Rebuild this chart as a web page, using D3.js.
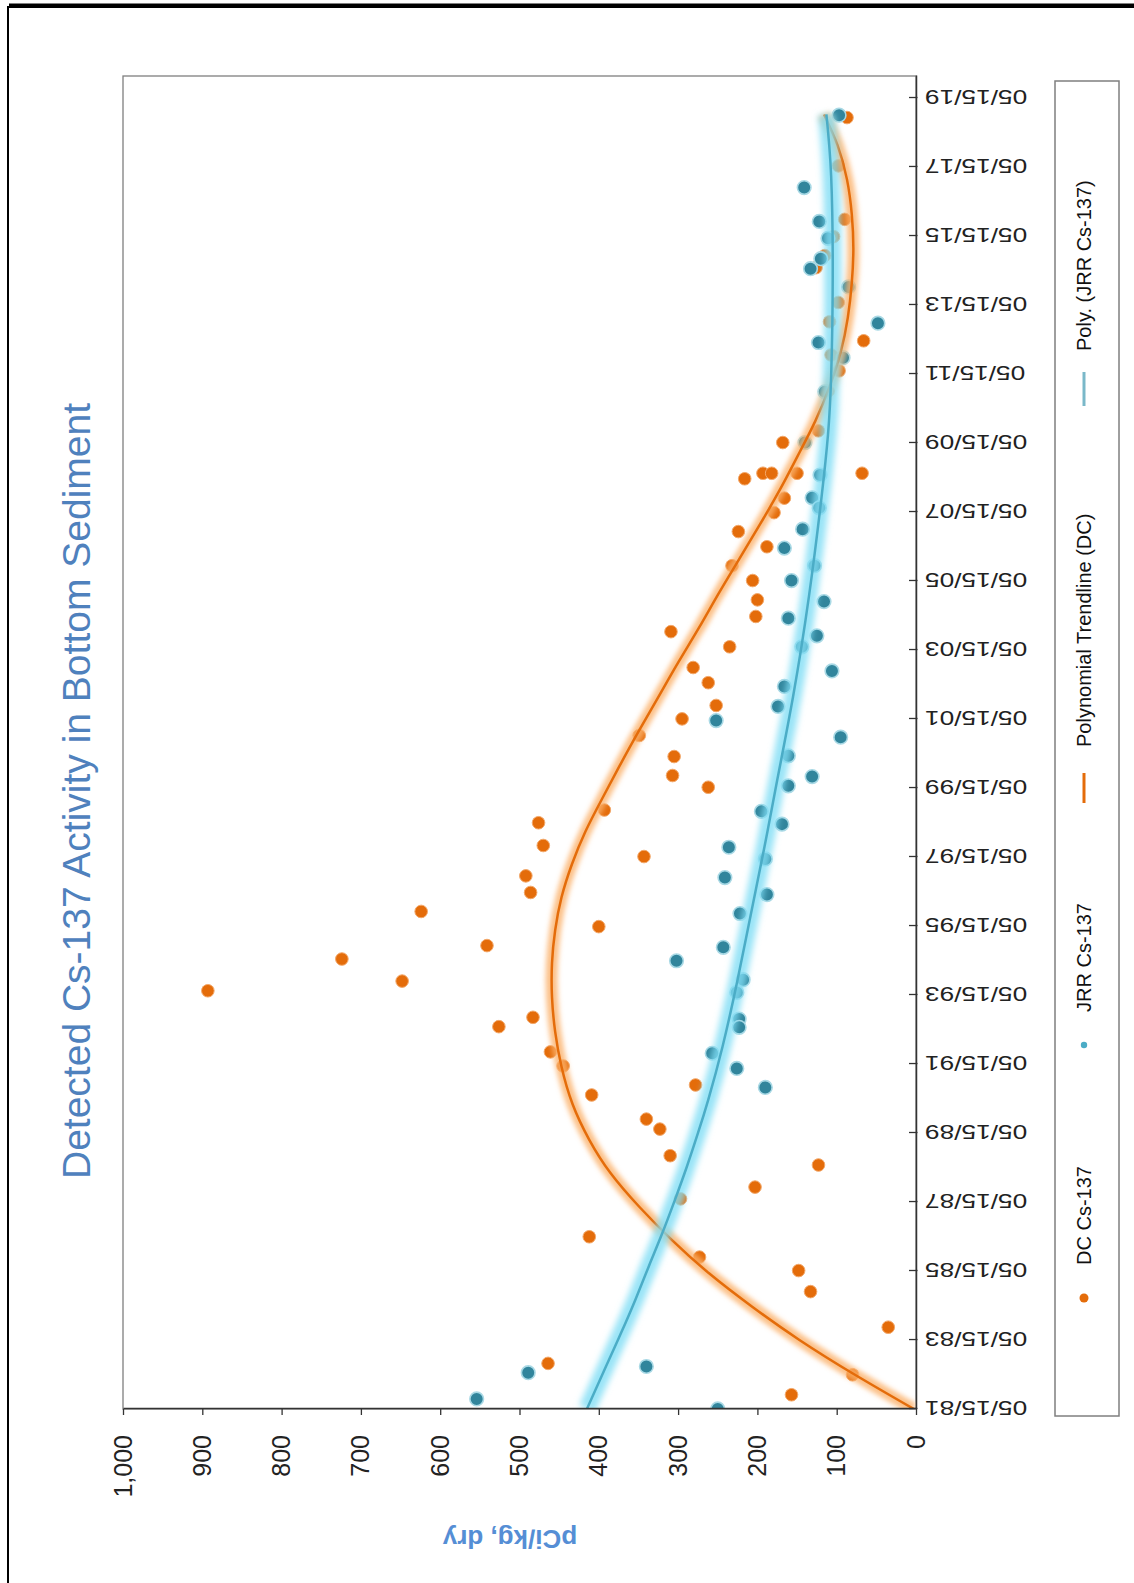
<!DOCTYPE html>
<html>
<head>
<meta charset="utf-8">
<script src="https://cdn.jsdelivr.net/npm/d3@7/dist/d3.min.js"></script>
<style>
  body { margin: 0; background: #fff; }
  svg { display: block; }
  text { font-family: "Liberation Sans", Arial, sans-serif; }
</style>
</head>
<body>
<div id="chart"></div>
<script>
// date axis labels (every two years)
const dateLabels = ["05/15/81", "05/15/83", "05/15/85", "05/15/87", "05/15/89", "05/15/91",
  "05/15/93", "05/15/95", "05/15/97", "05/15/99", "05/15/01", "05/15/03", "05/15/05",
  "05/15/07", "05/15/09", "05/15/11", "05/15/13", "05/15/15", "05/15/17", "05/15/19"];
const valueTicks = [0, 100, 200, 300, 400, 500, 600, 700, 800, 900, 1000];

// DC Cs-137 samples [decimal year, pCi/kg]
const dcCs137 = [
  [2018.8, 87], [2017.4, 98], [2015.85, 90], [2015.35, 104], [2014.8, 115], [2014.45, 126],
  [2013.44, 98], [2012.88, 109], [2012.33, 66], [2011.92, 107], [2011.46, 97], [2010.87, 111],
  [2009.72, 123], [2009.38, 168], [2008.49, 68], [2008.33, 216], [2008.49, 193], [2008.49, 182],
  [2008.49, 150], [2007.77, 166], [2007.35, 179], [2006.8, 224], [2006.36, 188], [2005.81, 232],
  [2005.38, 206], [2004.82, 200], [2004.34, 202], [2003.9, 309], [2003.46, 235], [2002.86, 281],
  [2002.42, 262], [2001.76, 252], [2001.37, 295], [2000.89, 349], [2000.28, 305], [1999.73, 307],
  [1999.39, 262], [1998.73, 393], [1998.36, 476], [1997.7, 470], [1997.38, 343], [1996.82, 492],
  [1996.34, 486], [1995.79, 624], [1995.35, 400], [1994.8, 541], [1994.41, 724], [1993.77, 648],
  [1993.49, 893], [1992.72, 483], [1992.45, 526], [1991.72, 461], [1991.31, 445], [1990.76, 278],
  [1990.47, 409], [1989.77, 340], [1989.48, 323], [1988.71, 310], [1988.44, 123], [1987.8, 203],
  [1987.46, 297], [1986.36, 412], [1985.77, 273], [1985.38, 148], [1984.77, 133], [1983.74, 35],
  [1982.69, 464], [1982.36, 80], [1981.78, 157]
];

// JRR Cs-137 samples [decimal year, pCi/kg]
const jrrCs137 = [
  [2018.87, 97], [2016.77, 141], [2015.79, 122], [2015.3, 111], [2014.71, 120], [2014.42, 133],
  [2013.89, 85], [2012.84, 48], [2012.28, 123], [2011.84, 92], [2010.85, 115], [2009.38, 140],
  [2008.44, 121], [2007.78, 131], [2007.49, 122], [2006.87, 143], [2006.32, 166], [2005.81, 128],
  [2005.38, 157], [2004.77, 116], [2004.29, 161], [2003.78, 125], [2003.46, 144], [2002.76, 106],
  [2002.31, 166], [2001.73, 174], [2001.32, 252], [2000.84, 95], [2000.3, 161], [1999.7, 131],
  [1999.43, 161], [1998.69, 195], [1998.32, 169], [1997.65, 236], [1997.31, 190], [1996.77, 241],
  [1996.28, 188], [1995.73, 222], [1994.75, 243], [1994.36, 302], [1993.81, 218], [1993.44, 226],
  [1992.67, 223], [1992.43, 223], [1991.68, 257], [1991.24, 226], [1990.69, 190], [1982.6, 340],
  [1982.42, 489], [1981.66, 554], [1981.37, 250]
];

// trendlines [decimal year, pCi/kg]
const dcTrend = [
  [1981.37, 3], [1982.36, 77], [1983.37, 147], [1984.34, 207], [1985.3, 261], [1986.27, 308],
  [1987.23, 349], [1988.2, 385], [1989.17, 412], [1990.2, 433], [1991.29, 447], [1992.3, 455],
  [1993.3, 459], [1994.3, 459], [1995.25, 455], [1996.2, 447], [1997.15, 434], [1998.1, 417],
  [1999.05, 396], [2000, 374], [2001, 350], [2002, 325], [2003, 300], [2004, 274], [2005, 249],
  [2006, 223], [2007, 197], [2008, 172], [2009, 149], [2010, 127], [2011, 109], [2012, 95],
  [2013, 86], [2014, 81], [2015, 79], [2016, 81], [2017, 87], [2018, 99], [2018.89, 116]
];
const jrrTrend = [
  [1981.37, 415], [1982.6, 391], [1983.57, 372], [1984.53, 354], [1985.5, 337], [1986.46, 320],
  [1987.43, 304], [1988.39, 289], [1989.36, 275], [1990.33, 262], [1991.87, 244], [1993.81, 225],
  [1995.74, 208], [1997.67, 191], [1999.6, 175], [2002.02, 155], [2004.92, 135], [2007.82, 119],
  [2009.6, 111], [2011.3, 107], [2014.2, 105], [2017.1, 107], [2018.89, 113]
];

const legendItems = ["DC Cs-137", "JRR Cs-137", "Polynomial Trendline (DC)", "Poly. (JRR Cs-137)"];

const orange = "#E46C0A";
const teal = "#31859C";

// page is portrait; the chart is drawn landscape and turned a quarter left
const pageW = 1134, pageH = 1583;
const plot = {left: 174, right: 1507, top: 123, bottom: 916};

function yearToDate(y) {
  const yr = Math.floor(y);
  const a = Date.UTC(yr, 0, 1), b = Date.UTC(yr + 1, 0, 1);
  return new Date(a + (y - yr) * (b - a));
}

const parse = d3.utcParse("%m/%d/%y");
const tickDates = dateLabels.map(parse);

const x = d3.scaleUtc()
  .domain([tickDates[0], new Date(Date.UTC(2020, 0, 3))])
  .range([plot.left, plot.right]);

const y = d3.scaleLinear()
  .domain([0, 1000])
  .range([plot.bottom, plot.top]);

const svg = d3.select("#chart").append("svg")
  .attr("width", pageW)
  .attr("height", pageH);

const defs = svg.append("defs");
defs.append("clipPath").attr("id", "plotClip")
  .append("rect")
  .attr("x", plot.left).attr("y", plot.top)
  .attr("width", plot.right - plot.left).attr("height", plot.bottom - plot.top);
[["blurDC", 2.5], ["blurJRR", 3]].forEach(function (f) {
  defs.append("filter").attr("id", f[0])
    .attr("filterUnits", "userSpaceOnUse")
    .attr("x", 0).attr("y", 0).attr("width", 1600).attr("height", 1200)
    .append("feGaussianBlur").attr("stdDeviation", f[1]);
});

// outer frame
svg.append("rect")
  .attr("x", 8).attr("y", 7)
  .attr("width", pageW + 20).attr("height", pageH + 20)
  .attr("fill", "none").attr("stroke", "#000").attr("stroke-width", 2);
svg.append("line")
  .attr("x1", 9).attr("x2", pageW).attr("y1", 5.5).attr("y2", 5.5)
  .attr("stroke", "#000").attr("stroke-width", 4);

const g = svg.append("g")
  .attr("transform", "translate(0," + pageH + ") rotate(-90)");

// title
g.append("text")
  .attr("x", 792).attr("y", 90)
  .attr("text-anchor", "middle")
  .attr("font-size", 39)
  .attr("fill", "#4F81BD")
  .text("Detected Cs-137 Activity in Bottom Sediment");

// plot area border
g.append("rect")
  .attr("x", plot.left).attr("y", plot.top)
  .attr("width", plot.right - plot.left).attr("height", plot.bottom - plot.top)
  .attr("fill", "#fff").attr("stroke", "#7f7f7f").attr("stroke-width", 1.3);

// points
const pts = g.append("g").attr("clip-path", "url(#plotClip)");
pts.selectAll("circle.dc")
  .data(dcCs137).enter().append("circle")
  .attr("class", "dc")
  .attr("cx", function (d) { return x(yearToDate(d[0])); })
  .attr("cy", function (d) { return y(d[1]); })
  .attr("r", 6.3)
  .attr("fill", orange)
  .attr("stroke", "#f3a86a").attr("stroke-width", 1);
pts.selectAll("circle.jrr")
  .data(jrrCs137).enter().append("circle")
  .attr("class", "jrr")
  .attr("cx", function (d) { return x(yearToDate(d[0])); })
  .attr("cy", function (d) { return y(d[1]); })
  .attr("r", 6.8)
  .attr("fill", teal)
  .attr("stroke", "#a9d9e5").attr("stroke-width", 1.6);

// trendlines with glow
const line = d3.line()
  .x(function (d) { return x(yearToDate(d[0])); })
  .y(function (d) { return y(d[1]); })
  .curve(d3.curveNatural);

const trends = g.append("g").attr("clip-path", "url(#plotClip)");
trends.append("path").attr("d", line(dcTrend))
  .attr("fill", "none").attr("stroke", "#FBB26A").attr("stroke-width", 12)
  .attr("stroke-opacity", 0.8).attr("filter", "url(#blurDC)");
trends.append("path").attr("d", line(dcTrend))
  .attr("fill", "none").attr("stroke", orange).attr("stroke-width", 2.5);
trends.append("path").attr("d", line(jrrTrend))
  .attr("fill", "none").attr("stroke", "#7FDDF5").attr("stroke-width", 17)
  .attr("stroke-opacity", 0.8).attr("filter", "url(#blurJRR)");
trends.append("path").attr("d", line(jrrTrend))
  .attr("fill", "none").attr("stroke", "#4BACC6").attr("stroke-width", 2.5);

// date axis (bottom in landscape, right side of the page)
const xAxis = g.append("g")
  .attr("transform", "translate(0," + plot.bottom + ")")
  .call(d3.axisBottom(x)
    .tickValues(tickDates)
    .tickSizeInner(-7).tickSizeOuter(0)
    .tickFormat(function (d, i) { return dateLabels[i]; }));
xAxis.select(".domain").attr("stroke", "#333").attr("stroke-width", 1.5);
xAxis.selectAll(".tick line").attr("stroke", "#333").attr("stroke-width", 1.3).attr("y2", -7).attr("y1", 1.5);
xAxis.selectAll(".tick text")
  .attr("y", 0).attr("dy", null)
  .attr("transform", "rotate(-90) translate(-9,0) scale(1.25,1)")
  .attr("x", 0)
  .attr("dominant-baseline", "central")
  .attr("text-anchor", "end")
  .attr("font-family", "Liberation Sans, Arial, sans-serif")
  .attr("font-size", 21)
  .attr("fill", "#222");

// value axis (left in landscape, bottom of the page)
const yAxis = g.append("g")
  .attr("transform", "translate(" + plot.left + ",0)")
  .call(d3.axisLeft(y)
    .tickValues(valueTicks)
    .tickSizeInner(6).tickSizeOuter(0)
    .tickPadding(20)
    .tickFormat(d3.format(",")));
yAxis.select(".domain").attr("stroke", "#333").attr("stroke-width", 1.5);
yAxis.selectAll(".tick line").attr("stroke", "#333").attr("stroke-width", 1.3);
yAxis.selectAll(".tick text")
  .attr("font-family", "Liberation Sans, Arial, sans-serif")
  .attr("font-size", 25)
  .attr("fill", "#222");

// value axis title
g.append("text")
  .attr("transform", "translate(53,510) rotate(-90)")
  .attr("text-anchor", "middle")
  .attr("font-size", 26)
  .attr("font-weight", "bold")
  .attr("fill", "#558ED5")
  .text("pCi/kg, dry");

// legend
const legend = g.append("g");
legend.append("rect")
  .attr("x", 167).attr("y", 1055)
  .attr("width", 1502 - 167).attr("height", 64)
  .attr("fill", "#fff").attr("stroke", "#7f7f7f").attr("stroke-width", 1.5);
const ly = 1084;
legend.append("circle").attr("cx", 285).attr("cy", ly).attr("r", 4.5).attr("fill", orange);
legend.append("circle").attr("cx", 538).attr("cy", ly).attr("r", 3.2).attr("fill", "#4BACC6");
legend.append("line").attr("x1", 780).attr("x2", 810).attr("y1", ly).attr("y2", ly)
  .attr("stroke", orange).attr("stroke-width", 3);
legend.append("line").attr("x1", 1177).attr("x2", 1211).attr("y1", ly).attr("y2", ly)
  .attr("stroke", "#7ab8c9").attr("stroke-width", 3);
const legendX = [318, 571, 836, 1232];
legend.selectAll("text.leg")
  .data(legendItems).enter().append("text")
  .attr("class", "leg")
  .attr("x", function (d, i) { return legendX[i]; })
  .attr("y", ly + 7)
  .attr("font-size", 20)
  .attr("fill", "#111")
  .text(function (d) { return d; });
</script>
</body>
</html>
